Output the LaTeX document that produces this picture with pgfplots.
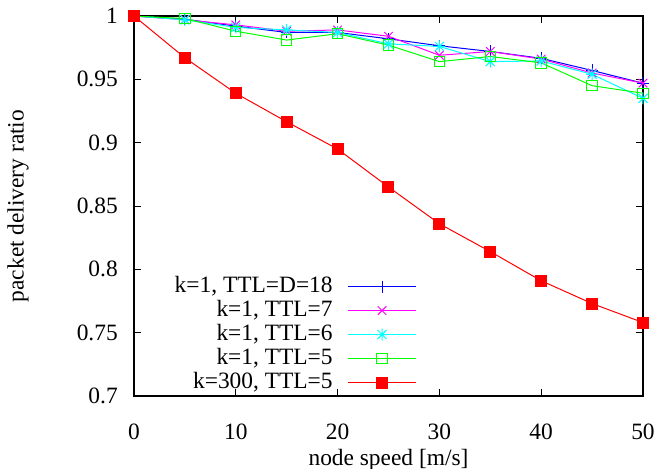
\documentclass[border=0pt]{standalone}
\usepackage{pgfplots}
\pgfplotsset{compat=1.18}
\usepackage{fontspec}
\setmainfont{Liberation Serif}
\definecolor{gpblue}{RGB}{0,0,255}
\definecolor{gpmag}{RGB}{255,0,255}
\definecolor{gpcyan}{RGB}{0,255,255}
\definecolor{gpgreen}{RGB}{0,255,0}
\definecolor{gpred}{RGB}{255,0,0}
\pgfdeclareplotmark{gpstar}{%
  \pgfpathmoveto{\pgfqpoint{-\pgfplotmarksize}{0pt}}\pgfpathlineto{\pgfqpoint{\pgfplotmarksize}{0pt}}%
  \pgfpathmoveto{\pgfqpoint{0pt}{-\pgfplotmarksize}}\pgfpathlineto{\pgfqpoint{0pt}{\pgfplotmarksize}}%
  \pgfpathmoveto{\pgfqpoint{-0.75\pgfplotmarksize}{-0.75\pgfplotmarksize}}\pgfpathlineto{\pgfqpoint{0.75\pgfplotmarksize}{0.75\pgfplotmarksize}}%
  \pgfpathmoveto{\pgfqpoint{-0.75\pgfplotmarksize}{0.75\pgfplotmarksize}}\pgfpathlineto{\pgfqpoint{0.75\pgfplotmarksize}{-0.75\pgfplotmarksize}}%
  \pgfusepathqstroke}
\begin{document}
\begin{tikzpicture}[font=\fontsize{11.7}{13}\selectfont]
\path[use as bounding box] (-67pt,-36pt) rectangle (268pt,198pt);
\begin{axis}[
  scale only axis, width=254.5pt, height=190pt,
  at={(0,0)}, anchor=south west,
  xmin=0, xmax=50, ymin=0.7, ymax=1,
  xtick={0,10,20,30,40,50},
  ytick={0.7,0.75,0.8,0.85,0.9,0.95,1},
  tick align=inside, major tick length=3.5pt,
  axis line style={line width=0.6pt},
  every tick/.style={black, line width=0.5pt},
  /pgf/number format/assume math mode=true,
  yticklabel style={/pgf/number format/fixed, /pgf/number format/precision=2, xshift=-4.6pt},
  xticklabel style={yshift=-10.25pt},
  xlabel={node speed [m/s]},
  ylabel={packet delivery ratio},
  xlabel style={at={(axis description cs:0.5,-0.168)}, anchor=center},
  ylabel style={at={(axis description cs:-0.228,0.5)}, anchor=center},
  legend plot pos=right,
  legend cell align=right,
  legend image code/.code={\draw[mark repeat=2,mark phase=2,#1] plot coordinates {(0pt,0pt)(17pt,0pt)(34pt,0pt)};},
  legend style={draw=none, fill=none, inner sep=0pt, column sep=7.5pt, row sep=1pt,
    nodes={inner sep=0pt, text height=8.5pt, text depth=2.5pt},
    at={(axis description cs:0.556,0.318)}, anchor=north east},
  every axis plot/.append style={line width=0.5pt},
]
\addplot[gpblue, mark=+, mark size=3pt] coordinates {
(0,1) (5,0.9975) (10,0.992) (15,0.987) (20,0.987) (25,0.982) (30,0.9765) (35,0.972) (40,0.9666) (45,0.957) (50,0.947)};
\addlegendentry{k=1, TTL=D=18}
\addplot[gpmag, mark=x, mark size=3pt] coordinates {
(0,1) (5,0.997) (10,0.993) (15,0.988) (20,0.989) (25,0.984) (30,0.969) (35,0.972) (40,0.966) (45,0.955) (50,0.947)};
\addlegendentry{k=1, TTL=7}
\addplot[gpcyan, mark=gpstar, mark size=3pt] coordinates {
(0,1) (5,0.997) (10,0.991) (15,0.989) (20,0.987) (25,0.978) (30,0.976) (35,0.964) (40,0.9645) (45,0.954) (50,0.935)};
\addlegendentry{k=1, TTL=6}
\addplot[gpgreen, mark=square, mark size=2.6pt] coordinates {
(0,1) (5,0.998) (10,0.988) (15,0.981) (20,0.986) (25,0.977) (30,0.964) (35,0.968) (40,0.963) (45,0.945) (50,0.939)};
\addlegendentry{k=1, TTL=5}
\addplot[gpred, mark=square*, mark size=2.75pt, mark options={fill=gpred}] coordinates {
(0,1) (5,0.967) (10,0.939) (15,0.9165) (20,0.895) (25,0.865) (30,0.836) (35,0.814) (40,0.791) (45,0.773) (50,0.758)};
\addlegendentry{k=300, TTL=5}
\end{axis}
\end{tikzpicture}
\end{document}
